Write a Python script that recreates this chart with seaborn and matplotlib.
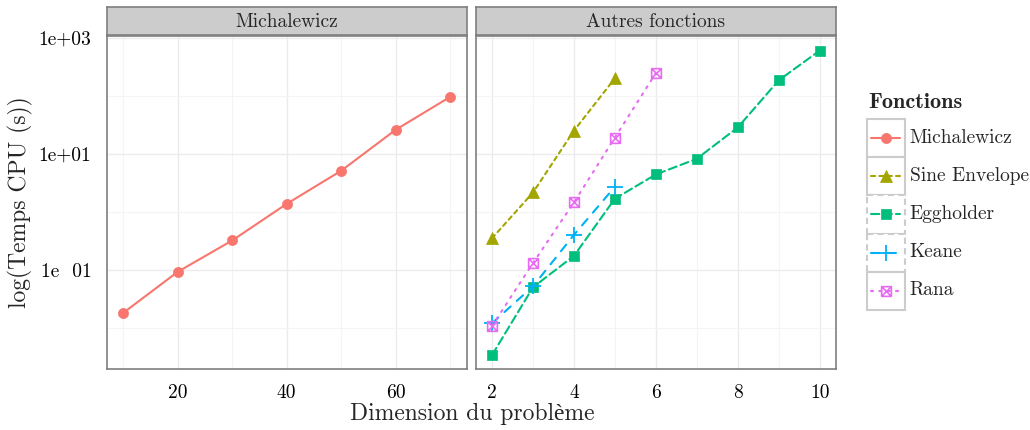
import pandas as pd
import matplotlib
matplotlib.use("Agg")
import matplotlib.pyplot as plt
from matplotlib.path import Path
from matplotlib.patches import Rectangle
from matplotlib.lines import Line2D
from matplotlib.ticker import NullFormatter
import seaborn as sns

# =========================
# DATA
# =========================
dims_mich = [10, 20, 30, 40, 50, 60, 70]
temps_mich = [0.018, 0.092, 0.32, 1.37, 5.1, 26, 96]

dims_sine = [2, 3, 4, 5]
temps_sine = [0.35, 2.15, 25, 200]

dims_egg = [2, 3, 4, 5, 6, 7, 8, 9, 10]
temps_egg = [0.0034, 0.050, 0.174, 1.68, 4.4, 8.2, 28.4, 184, 600]

dims_keane = [2, 3, 4, 5]
temps_keane = [0.012, 0.052, 0.40, 2.7]

dims_rana = [2, 3, 4, 5, 6]
temps_rana = [0.0108, 0.131, 1.45, 19, 246]

fonctions = ["Michalewicz", "Sine Envelope", "Eggholder", "Keane", "Rana"]
panels = ["Michalewicz", "Autres fonctions"]
yticks = [0.1, 10, 1000]
ytick_labels = ["1e  01", "1e+01", "1e+03"]

series = {
    "Michalewicz": (dims_mich, temps_mich),
    "Sine Envelope": (dims_sine, temps_sine),
    "Eggholder": (dims_egg, temps_egg),
    "Keane": (dims_keane, temps_keane),
    "Rana": (dims_rana, temps_rana),
}

frames = []
for name in fonctions:
    d, t = series[name]
    frames.append(pd.DataFrame({
        "Dimension": d,
        "Temps": t,
        "Fonctions": name,
        "panel": "Michalewicz" if name == "Michalewicz" else "Autres fonctions",
    }))
df = pd.concat(frames, ignore_index=True)

# =========================
# STYLES
# =========================
sqx = Path(
    [(-1, -1), (1, -1), (1, 1), (-1, 1), (-1, -1), (-1, -1), (1, 1), (-1, 1), (1, -1)],
    [Path.MOVETO, Path.LINETO, Path.LINETO, Path.LINETO, Path.CLOSEPOLY,
     Path.MOVETO, Path.LINETO, Path.MOVETO, Path.LINETO],
)

styles = {
    "Michalewicz": dict(color="#F8766D", marker="o", linestyle="-", markersize=7.3, mew=0.5, mfc=None),
    "Sine Envelope": dict(color="#A3A500", marker="^", linestyle=(0, (2, 2)), markersize=9, mew=0.5, mfc=None),
    "Eggholder": dict(color="#00BF7D", marker="s", linestyle=(0, (4, 2)), markersize=6.8, mew=0.5, mfc=None),
    "Keane": dict(color="#00B0F6", marker="+", linestyle=(0, (4, 4)), markersize=11, mew=1.3, mfc=None),
    "Rana": dict(color="#E76BF3", marker=sqx, linestyle=(0, (1, 3)), markersize=7, mew=1.2, mfc="none"),
}

sns.set_theme(style="white")
plt.rcParams["font.family"] = ["cmr10", "Liberation Serif", "DejaVu Serif"]
plt.rcParams["axes.unicode_minus"] = False

W, H = 1030, 430
fig = plt.figure(figsize=(W / 100, H / 100), dpi=100)

panel_boxes = {
    "Michalewicz": [106.7 / W, 61 / H, 360 / W, 333 / H],
    "Autres fonctions": [475.7 / W, 61 / H, 360.3 / W, 333 / H],
}
xlims = {"Michalewicz": (7, 73), "Autres fonctions": (1.6, 10.4)}
xmajor = {"Michalewicz": [20, 40, 60], "Autres fonctions": [2, 4, 6, 8, 10]}
xminor = {"Michalewicz": [10, 30, 50, 70], "Autres fonctions": [3, 5, 7, 9]}

for p in panels:
    ax = fig.add_axes(panel_boxes[p])
    ax.set_yscale("log")
    sub = df[df["panel"] == p]
    for name in fonctions:
        s = sub[sub["Fonctions"] == name]
        if s.empty:
            continue
        st = styles[name]
        sns.lineplot(
            data=s, x="Dimension", y="Temps", ax=ax,
            color=st["color"], marker=st["marker"], markersize=st["markersize"],
            linestyle=st["linestyle"], linewidth=1.5,
            markeredgecolor=st["color"], markeredgewidth=st["mew"],
            markerfacecolor=st["mfc"] if st["mfc"] else st["color"],
            dash_capstyle="round", solid_capstyle="round",
            errorbar=None, legend=False,
        )

    ax.set_xlim(*xlims[p])
    ax.set_ylim(10 ** -2.71, 10 ** 3.03)
    ax.set_xticks(xmajor[p])
    ax.set_xticks(xminor[p], minor=True)
    ax.set_yticks(yticks)
    ax.set_yticks([0.01, 1, 100], minor=True)
    ax.xaxis.set_minor_formatter(NullFormatter())
    ax.yaxis.set_minor_formatter(NullFormatter())
    if p == "Michalewicz":
        ax.set_yticklabels(ytick_labels)
    else:
        ax.set_yticklabels([])
        ax.tick_params(axis="y", which="major", length=0)
    ax.tick_params(which="major", length=5, width=1.3, color="#333333",
                   labelsize=14, pad=6, labelcolor="black")
    ax.tick_params(which="minor", length=0)
    ax.set_xlabel("")
    ax.set_ylabel("")
    ax.set_facecolor("white")
    ax.grid(which="major", color="#EBEBEB", linewidth=1.0)
    ax.grid(which="minor", color="#F4F4F4", linewidth=0.8)
    ax.set_axisbelow(True)
    for sp in ax.spines.values():
        sp.set_color("#7F7F7F")
        sp.set_linewidth(1.2)

    # strip
    l, b, w, h = panel_boxes[p]
    sax = fig.add_axes([l, 395 / H, w, 28 / H])
    sax.set_facecolor("#CCCCCC")
    sax.set_xticks([])
    sax.set_yticks([])
    for sp in sax.spines.values():
        sp.set_color("#7F7F7F")
        sp.set_linewidth(1.2)
    sax.text(0.5, 0.45, p, ha="center", va="center", fontsize=14, transform=sax.transAxes)

# =========================
# AXIS TITLES
# =========================
fig.text(472 / W, 16 / H, "Dimension du problème", ha="center", va="center", fontsize=17)
fig.text(20 / W, (H - 202) / H, "log(Temps CPU (s))", ha="center", va="center",
         rotation=90, fontsize=17)

# =========================
# LEGEND
# =========================
lax = fig.add_axes([866.5 / W, (H - 309.5) / H, 38.5 / W, 190 / H])
lax.set_xlim(0, 1)
lax.set_ylim(5, 0)
lax.axis("off")
border_ls = {"Michalewicz": "-", "Sine Envelope": "-", "Eggholder": (0, (3, 2)),
             "Keane": (0, (3, 2)), "Rana": "-"}
for i, name in enumerate(fonctions):
    st = styles[name]
    lax.add_patch(Rectangle((0, i), 1, 1, facecolor="white", edgecolor="#CCCCCC",
                            linewidth=1.5, linestyle=border_ls[name], clip_on=False))
    ln = Line2D([0.12, 0.5, 0.88], [i + 0.5] * 3, color=st["color"], linewidth=1.5,
                linestyle=st["linestyle"], marker=st["marker"], markevery=[1],
                markersize=st["markersize"], markeredgecolor=st["color"],
                markeredgewidth=st["mew"],
                markerfacecolor=st["mfc"] if st["mfc"] else st["color"],
                dash_capstyle="round", solid_capstyle="round", clip_on=False)
    lax.add_line(ln)
    lax.text(1.12, i + 0.5, name, ha="left", va="center", fontsize=14, clip_on=False)

fig.text(868 / W, (H - 103) / H, "Fonctions", ha="left", va="center", fontsize=16,
         family=["cmb10", "Liberation Serif", "DejaVu Serif"], fontweight="bold")

fig.savefig("out.png", dpi=100)
